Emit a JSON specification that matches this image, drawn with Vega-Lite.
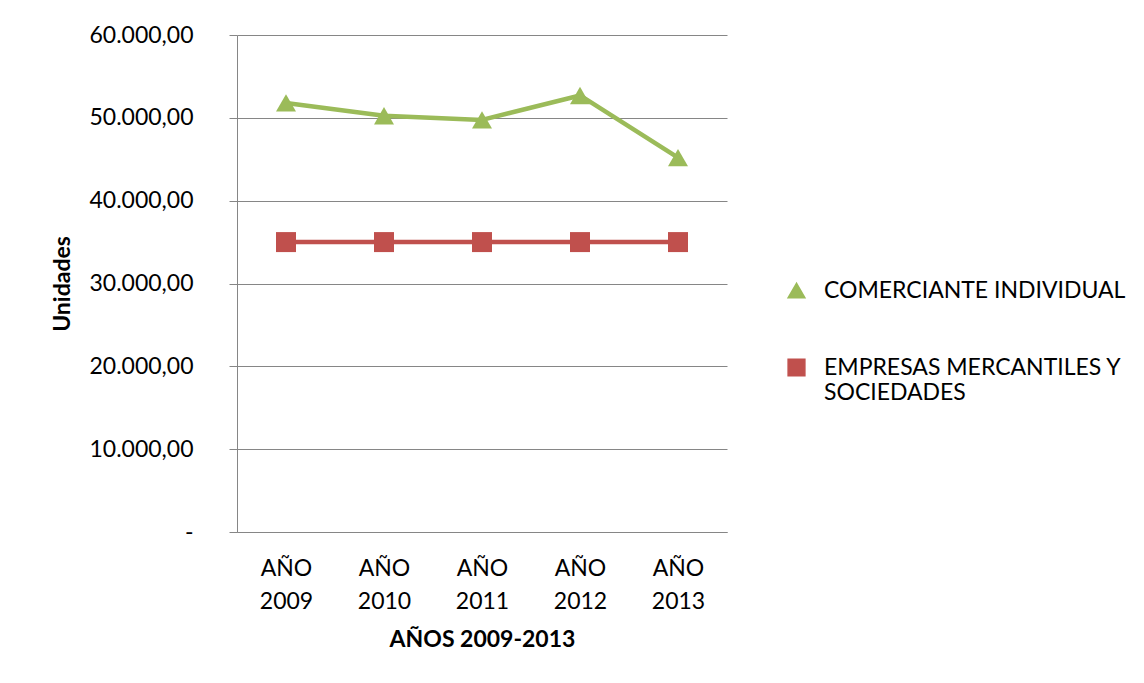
{
  "$schema": "https://vega.github.io/schema/vega-lite/v6.json",
  "width": 490,
  "height": 497,
  "autosize": {"type": "none"},
  "padding": {"left": 237, "top": 35, "right": 417, "bottom": 151},
  "background": "white",
  "config": {
    "font": "Lato",
    "locale": {
      "number": {"decimal": ",", "thousands": ".", "grouping": [3], "currency": ["", ""]}
    },
    "view": {"stroke": null},
    "axis": {
      "labelColor": "black",
      "titleColor": "black",
      "labelFontSize": 23,
      "titleFontSize": 23,
      "titleFontWeight": "bold",
      "domainColor": "#868686",
      "tickColor": "#868686",
      "gridColor": "#868686",
      "domainWidth": 1,
      "tickWidth": 1,
      "gridWidth": 1
    }
  },
  "data": {
    "values": [
      {"anio": "AÑO 2009", "serie": "COMERCIANTE INDIVIDUAL", "unidades": 51800},
      {"anio": "AÑO 2010", "serie": "COMERCIANTE INDIVIDUAL", "unidades": 50250},
      {"anio": "AÑO 2011", "serie": "COMERCIANTE INDIVIDUAL", "unidades": 49750},
      {"anio": "AÑO 2012", "serie": "COMERCIANTE INDIVIDUAL", "unidades": 52700},
      {"anio": "AÑO 2013", "serie": "COMERCIANTE INDIVIDUAL", "unidades": 45200},
      {"anio": "AÑO 2009", "serie": "EMPRESAS MERCANTILES Y SOCIEDADES", "unidades": 35000},
      {"anio": "AÑO 2010", "serie": "EMPRESAS MERCANTILES Y SOCIEDADES", "unidades": 35000},
      {"anio": "AÑO 2011", "serie": "EMPRESAS MERCANTILES Y SOCIEDADES", "unidades": 35000},
      {"anio": "AÑO 2012", "serie": "EMPRESAS MERCANTILES Y SOCIEDADES", "unidades": 35000},
      {"anio": "AÑO 2013", "serie": "EMPRESAS MERCANTILES Y SOCIEDADES", "unidades": 35000}
    ]
  },
  "encoding": {
    "x": {
      "field": "anio",
      "type": "ordinal",
      "sort": null,
      "scale": {"type": "point", "padding": 0.5},
      "axis": {
        "title": "AÑOS 2009-2013",
        "labelAngle": 0,
        "labelExpr": "split(datum.label, ' ')",
        "labelLineHeight": 33,
        "labelBaseline": "top",
        "ticks": false,
        "tickSize": 0,
        "labelPadding": 25,
        "titlePadding": 15
      }
    },
    "y": {
      "field": "unidades",
      "type": "quantitative",
      "scale": {"domain": [0, 60000], "nice": false},
      "axis": {
        "title": "Unidades",
        "values": [0, 10000, 20000, 30000, 40000, 50000, 60000],
        "format": ",.2f",
        "labelExpr": "datum.value == 0 ? '-\u00a0\u00a0' : datum.label",
        "grid": true,
        "tickSize": 8,
        "labelPadding": 36,
        "titlePadding": 14
      }
    },
    "color": {
      "field": "serie",
      "type": "nominal",
      "scale": {
        "domain": ["COMERCIANTE INDIVIDUAL", "EMPRESAS MERCANTILES Y SOCIEDADES"],
        "range": ["#9BBB59", "#C0504D"]
      }
    }
  },
  "layer": [
    {
      "mark": {"type": "line", "strokeWidth": 4.5, "strokeJoin": "round"}
    },
    {
      "mark": {"type": "point", "filled": true, "opacity": 1, "size": 400},
      "encoding": {
        "shape": {
          "field": "serie",
          "type": "nominal",
          "scale": {
            "domain": ["COMERCIANTE INDIVIDUAL", "EMPRESAS MERCANTILES Y SOCIEDADES"],
            "range": ["triangle-up", "square"]
          },
          "legend": {
            "title": null,
            "orient": "none",
            "legendX": 548,
            "legendY": 244,
            "padding": 0,
            "symbolSize": 280,
            "symbolOpacity": 1,
            "labelFontSize": 23,
            "labelColor": "black",
            "labelLimit": 600,
            "labelOffset": 16,
            "labelBaseline": "middle",
            "rowPadding": 53,
            "labelExpr": "datum.label == 'EMPRESAS MERCANTILES Y SOCIEDADES' ? ['EMPRESAS MERCANTILES Y', 'SOCIEDADES'] : datum.label"
          }
        }
      }
    }
  ]
}
